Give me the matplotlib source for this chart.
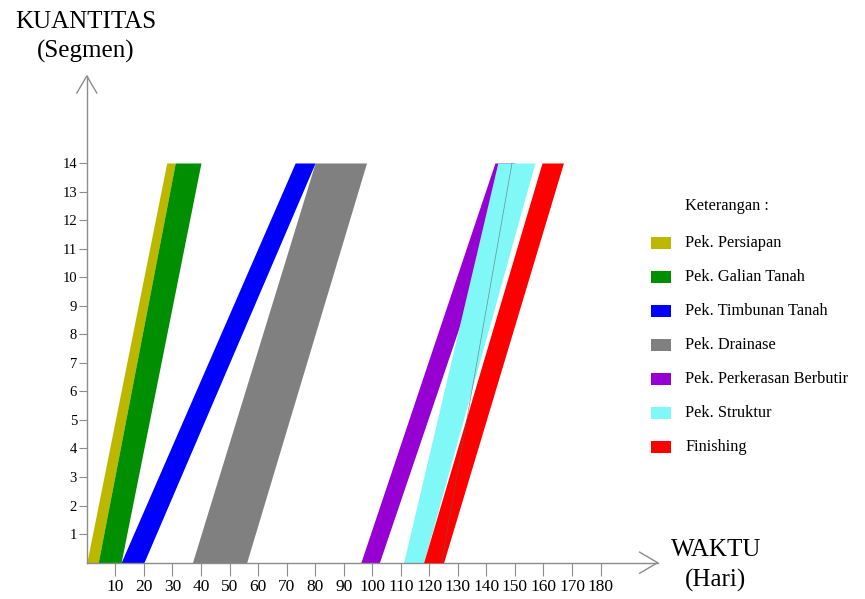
import matplotlib
matplotlib.use("Agg")
import matplotlib.pyplot as plt
from matplotlib.patches import Rectangle

# ─── Data ────────────────────────────────────────────────────────────────────
activities = [
    "Pek. Persiapan",
    "Pek. Galian Tanah",
    "Pek. Timbunan Tanah",
    "Pek. Drainase",
    "Pek. Perkerasan Berbutir",
    "Pek. Struktur",
    "Finishing",
]
colors = ["#bdb700", "#008f00", "#0000ff", "#808080", "#9600d2", "#80f8f8", "#ff0000"]

# start / finish day of each band at segment 0 and at segment 14
start_bottom = [0, 4, 12, 37, 96, 111, 118]
end_bottom = [4, 12, 20, 56, 102.5, 118, 125]
start_top = [28, 31, 73, 80, 143, 144, 159.5]
end_top = [31, 40, 80, 98, 150, 157, 167]

segments = [0, 14]
y_ticks = list(range(1, 15))
x_ticks = list(range(10, 190, 10))

# thin guide line crossing the last bands
guide_x = [124.3, 149]
guide_y = [0, 14]

serif = "Liberation Serif"
axis_col = "#8c8c8c"

fig = plt.figure(figsize=(8.65, 5.99), dpi=100)
ax = fig.add_axes([86.8 / 865, 36.3 / 599, 570.8 / 865, 486.8 / 599])
ax.set_xlim(0, 200)
ax.set_ylim(0, 17.05)

for i in range(len(activities)):
    ax.fill_betweenx(segments,
                     [start_bottom[i], start_top[i]],
                     [end_bottom[i], end_top[i]],
                     color=colors[i], linewidth=0, zorder=2 + i * 0.1)

ax.plot(guide_x, guide_y, color="#606060", linewidth=0.5, alpha=0.7, zorder=3)

# axes with open arrow heads
for side in ["top", "right"]:
    ax.spines[side].set_visible(False)
for side in ["left", "bottom"]:
    ax.spines[side].set_color(axis_col)
    ax.spines[side].set_linewidth(1.0)

ax.plot([-3.5, 0, 3.5], [16.45, 17.05, 16.45], color=axis_col, lw=1.0, clip_on=False)
ax.plot([193.7, 200, 193.7], [0.37, 0, -0.37], color=axis_col, lw=1.0, clip_on=False)

ax.set_xticks(x_ticks)
ax.set_yticks(y_ticks)
ax.tick_params(axis="x", direction="out", length=9, width=0.8, color=axis_col, pad=3)
ax.tick_params(axis="y", direction="out", length=6, width=0.8, color=axis_col, pad=1)
for lab in ax.get_xticklabels():
    lab.set_fontfamily(serif)
    lab.set_fontsize(12.5)
for lab in ax.get_yticklabels():
    lab.set_fontfamily(serif)
    lab.set_fontsize(10.5)

# axis titles
fig.text(86 / 865, 1 - 22 / 599, "KUANTITAS", family=serif, fontsize=18,
         ha="center", va="center")
fig.text(86 / 865, 1 - 51 / 599, "(Segmen)", family=serif, fontsize=18,
         ha="center", va="center")
fig.text(716 / 865, 1 - 550 / 599, "WAKTU", family=serif, fontsize=18,
         ha="center", va="center")
fig.text(716 / 865, 1 - 580 / 599, "(Hari)", family=serif, fontsize=18,
         ha="center", va="center")

# legend
fig.text(685 / 865, 1 - 206 / 599, "Keterangan :", family=serif, fontsize=11.8,
         ha="left", va="center")
for i, name in enumerate(activities):
    yc = 243 + 34 * i
    fig.patches.append(Rectangle((651 / 865, 1 - (yc + 6) / 599), 20 / 865, 12 / 599,
                                 transform=fig.transFigure, color=colors[i],
                                 linewidth=0))
    fig.text(685 / 865, 1 - yc / 599, name, family=serif, fontsize=11.8,
             ha="left", va="center")

fig.savefig("out.png", dpi=100)
